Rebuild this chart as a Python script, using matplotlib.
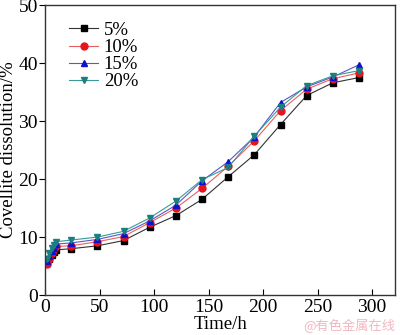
import matplotlib
matplotlib.use('Agg')
import matplotlib.pyplot as plt

plt.rcParams['font.family'] = ['Liberation Serif', 'DejaVu Serif']

# Sampling times (h)
time_h = [2, 4, 6, 8, 10, 24, 48, 72, 96, 120, 144, 168, 192, 216, 240, 264, 288]

# Covellite dissolution (%) per pulp density
diss_5 = [5.6, 6.3, 7.0, 7.5, 7.8, 8.0, 8.5, 9.4, 11.7, 13.7, 16.5, 20.4, 24.2, 29.4, 34.4, 36.6, 37.5]
diss_10 = [5.3, 6.3, 7.2, 7.9, 8.4, 8.5, 9.2, 10.1, 12.5, 15.0, 18.4, 22.2, 26.6, 31.8, 35.5, 37.3, 38.3]
diss_15 = [5.8, 6.8, 7.6, 8.2, 8.8, 9.0, 9.6, 10.6, 12.8, 15.5, 19.7, 23.0, 27.3, 33.2, 35.9, 37.6, 39.7]
diss_20 = [6.3, 7.3, 8.1, 8.7, 9.2, 9.5, 10.0, 11.0, 13.3, 16.2, 19.9, 22.0, 27.4, 32.4, 36.1, 37.8, 38.7]

labels = ['5%', '10%', '15%', '20%']

fig = plt.figure(figsize=(4.0, 3.35), dpi=100)
ax = fig.add_axes([0.1125, 0.119, 0.875, 0.866])

styles = [
    (diss_5, 's', 'black', '#333333'),
    (diss_10, 'o', '#e8141c', '#e86060'),
    (diss_15, '^', '#1010d0', '#5858c8'),
    (diss_20, 'v', '#1a7f80', '#3a9a9a'),
]
for (vals, mk, mc, lc), lab in zip(styles, labels):
    ax.plot(time_h, vals, color=lc, lw=0.8, marker=mk, ms=5,
            mfc=mc, mec=mc, label=lab)

ax.set_xlim(0, 321)
ax.set_ylim(0, 50)
ax.set_xticks([0, 50, 100, 150, 200, 250, 300])
ax.set_yticks([0, 10, 20, 30, 40, 50])
ax.tick_params(axis='x', direction='in', length=4, labelsize=14, pad=3)
ax.tick_params(axis='y', direction='out', length=4, labelsize=14, pad=1)
ax.set_xlabel('Time/h', fontsize=13.5, labelpad=0)
ax.set_ylabel('Covellite dissolution/%', fontsize=13.5, labelpad=1)
for s in ax.spines.values():
    s.set_linewidth(1.0)
    s.set_color('#333333')

leg = ax.legend(loc='upper left', bbox_to_anchor=(0.069, 0.942), frameon=False,
                fontsize=13.5, handlelength=1.55, handletextpad=0.3,
                labelspacing=0.0, borderaxespad=0, borderpad=0)

fig.text(0.988, 0.005, '@有色金属在线', ha='right', va='bottom', fontsize=9.5,
         color='#f2b8c0', family=['Noto Sans CJK SC', 'DejaVu Sans'])

fig.savefig('out.png', dpi=100)
